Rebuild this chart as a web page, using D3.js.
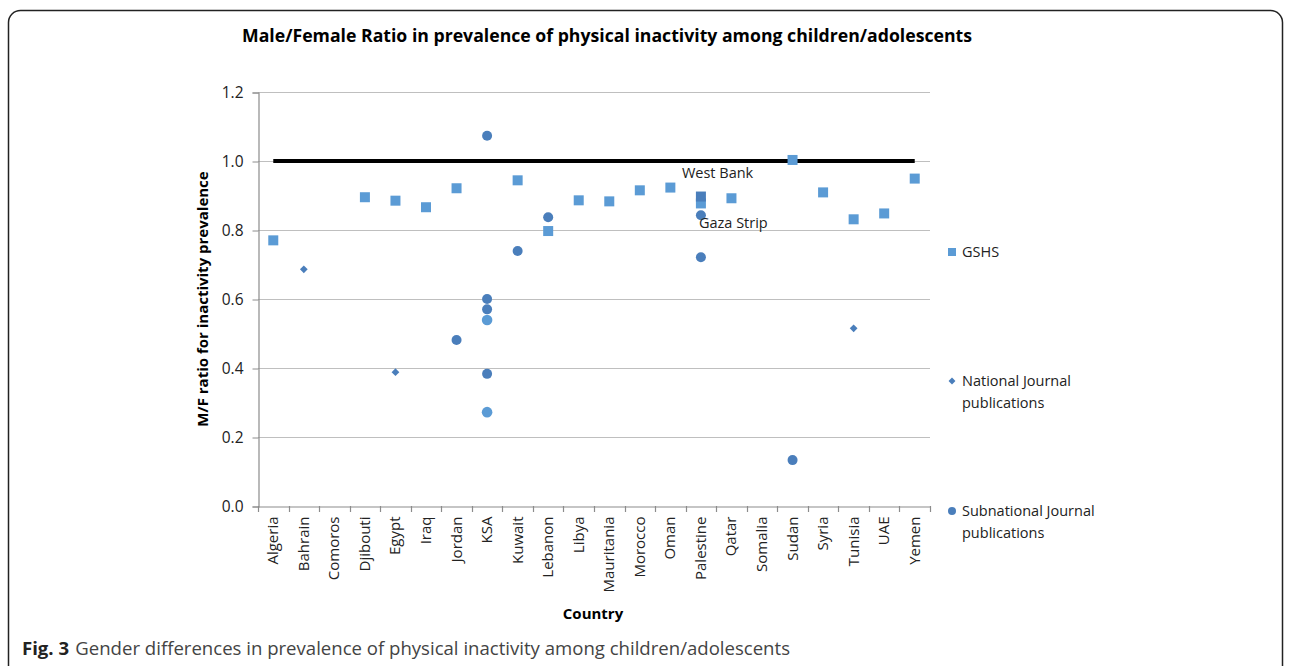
<!DOCTYPE html>
<html><head><meta charset="utf-8">
<script src="https://cdn.jsdelivr.net/npm/d3@7"></script>
<style>
html,body{margin:0;padding:0;background:#fff;}
svg{display:block;font-family:"Open Sans",sans-serif;}
</style></head>
<body><svg id="c" width="1290" height="666"></svg>
<script>
const countries = ["Algeria","Bahrain","Comoros","Djibouti","Egypt","Iraq","Jordan","KSA","Kuwait","Lebanon","Libya","Mauritania","Morocco","Oman","Palestine","Qatar","Somalia","Sudan","Syria","Tunisia","UAE","Yemen"];
const yTicks = [0, 0.2, 0.4, 0.6, 0.8, 1.0, 1.2];
const gshs = [["Algeria",0.77],["Djibouti",0.895],["Egypt",0.885],["Iraq",0.866],["Jordan",0.921],["Kuwait",0.944],["Lebanon",0.797],["Libya",0.886],["Mauritania",0.883],["Morocco",0.915],["Oman",0.923],["Palestine",0.877],["Qatar",0.892],["Sudan",1.003],["Syria",0.909],["Tunisia",0.831],["UAE",0.848],["Yemen",0.949]];
const gshsWestBank = [["Palestine",0.897]];
const national = [["Bahrain",0.686],["Egypt",0.388],["Tunisia",0.515]];
const subnational = [["Jordan",0.481],["KSA",1.073],["KSA",0.6],["KSA",0.57],["KSA",0.383],["Kuwait",0.739],["Lebanon",0.837],["Palestine",0.843],["Palestine",0.721],["Sudan",0.133]];
const subnationalB = [["KSA",0.539],["KSA",0.272]];
const referenceLine = 1.0;
const annotations = [["West Bank","Palestine",0.965],["Gaza Strip","Palestine",0.82]];
const legendItems = ["GSHS","National Journal|publications","Subnational Journal|publications"];

(function(){
const svg = d3.select("#c");
const pL=258, pR=930, pT=92, pB=506;
const x = d3.scaleBand().domain(countries).range([pL,pR]).padding(0);
const y = d3.scaleLinear().domain([0,1.2]).range([pB,pT]);
const cx = c => x(c)+x.bandwidth()/2;

svg.append("rect").attr("x",8.5).attr("y",10.5).attr("width",1274).attr("height",700)
  .attr("rx",12).attr("fill","none").attr("stroke","#222").attr("stroke-width",1.5);

svg.append("text").attr("x",607).attr("y",42).attr("text-anchor","middle")
  .attr("font-weight","bold").attr("font-size",17.5).attr("textLength",730).attr("lengthAdjust","spacingAndGlyphs")
  .text("Male/Female Ratio in prevalence of physical inactivity among children/adolescents");

svg.append("g").selectAll("line").data(yTicks.filter(d=>d>0)).join("line")
  .attr("x1",pL).attr("x2",pR).attr("y1",d=>Math.round(y(d))+0.5).attr("y2",d=>Math.round(y(d))+0.5)
  .attr("stroke","#bfbfbf").attr("stroke-width",1.2);

const yAxis = d3.axisLeft(y).tickValues(yTicks).tickFormat(d3.format(".1f")).tickSize(6).tickPadding(9);
const gy = svg.append("g").attr("transform",`translate(${pL+0.5},0.5)`).call(yAxis);
gy.select(".domain").attr("stroke","#8c8c8c").attr("stroke-width",1.2);
gy.selectAll(".tick line").attr("stroke","#8c8c8c");
gy.selectAll("text").attr("font-size",15.5).attr("fill","#222").attr("font-family","Open Sans");

const xAxis = d3.axisBottom(x).tickSize(0).tickPadding(0);
const gx = svg.append("g").attr("transform",`translate(0,${pB+0.5})`).call(xAxis);
gx.select(".domain").attr("stroke","#8c8c8c").attr("stroke-width",1.2);
gx.selectAll(".tick text").attr("font-size",15).attr("fill","#222").attr("font-family","Open Sans")
  .attr("text-anchor","end").attr("transform","translate(5,10) rotate(-90)").attr("dy",0).attr("x",0).attr("y",0);
svg.append("g").selectAll("line").data(d3.range(countries.length+1)).join("line")
  .attr("x1",i=>Math.round(pL+i*x.step())+0.5).attr("x2",i=>Math.round(pL+i*x.step())+0.5)
  .attr("y1",pB).attr("y2",pB+6).attr("stroke","#8c8c8c").attr("stroke-width",1.2);

svg.append("text").attr("transform",`translate(208,${(pT+pB)/2}) rotate(-90)`).attr("text-anchor","middle")
  .attr("font-weight","bold").attr("font-size",15).attr("font-family","Open Sans").text("M/F ratio for inactivity prevalence");
svg.append("text").attr("x",593).attr("y",619).attr("text-anchor","middle")
  .attr("font-weight","bold").attr("font-size",15).attr("font-family","Open Sans").text("Country");

svg.append("line").attr("x1",cx(countries[0])).attr("x2",cx(countries[countries.length-1]))
  .attr("y1",y(referenceLine)).attr("y2",y(referenceLine)).attr("stroke","#000").attr("stroke-width",4);

const C_SQ="#5b9bd5", C_SQD="#4a7ebb", C_DI="#4a7ebb", C_CI="#4a7ebb", C_CIB="#5b9bd5";
const sq=10;
const g = svg.append("g");
g.selectAll("rect.g").data(gshs).join("rect").attr("class","g")
  .attr("x",d=>cx(d[0])-sq/2).attr("y",d=>y(d[1])-sq/2).attr("width",sq).attr("height",sq).attr("fill",C_SQ);
g.selectAll("rect.w").data(gshsWestBank).join("rect").attr("class","w")
  .attr("x",d=>cx(d[0])-sq/2).attr("y",d=>y(d[1])-sq/2).attr("width",sq).attr("height",sq).attr("fill",C_SQD);
g.selectAll("path.n").data(national).join("path").attr("class","n")
  .attr("d",d3.symbol(d3.symbolSquare,30)).attr("transform",d=>`translate(${cx(d[0])},${y(d[1])}) rotate(45)`).attr("fill",C_DI);
g.selectAll("circle.s").data(subnational).join("circle").attr("class","s")
  .attr("cx",d=>cx(d[0])).attr("cy",d=>y(d[1])).attr("r",5).attr("fill",C_CI);
g.selectAll("circle.b").data(subnationalB).join("circle").attr("class","b")
  .attr("cx",d=>cx(d[0])).attr("cy",d=>y(d[1])).attr("r",5.3).attr("fill",C_CIB);

svg.append("g").selectAll("text").data(annotations).join("text")
  .attr("x",(d,i)=>cx(d[1])+(i===0?-19:-2)).attr("y",d=>y(d[2])+5)
  .attr("font-size",14.5).attr("font-family","Open Sans").attr("fill","#222")
  .text(d=>d[0]);

const legY=[252,381,511];
const lg = svg.append("g");
legendItems.forEach((t,i)=>{
  const yy=legY[i];
  if(i===0) lg.append("rect").attr("x",948).attr("y",yy-4).attr("width",8).attr("height",8).attr("fill",C_SQ);
  else if(i===1) lg.append("path").attr("d",d3.symbol(d3.symbolSquare,24)).attr("transform",`translate(952,${yy}) rotate(45)`).attr("fill",C_DI);
  else lg.append("circle").attr("cx",952).attr("cy",yy).attr("r",4).attr("fill",C_CI);
  t.split("|").forEach((line,j)=>{
    lg.append("text").attr("x",962).attr("y",yy+5+j*22).attr("font-size",14.5).attr("font-family","Open Sans").attr("fill","#222").text(line);
  });
});

const cap = svg.append("text").attr("x",22).attr("y",655).attr("font-size",18).attr("fill","#222").attr("font-family","Open Sans");
cap.append("tspan").attr("font-weight","bold").text("Fig. 3");
cap.append("tspan").attr("dx",6).attr("fill","#444").text("Gender differences in prevalence of physical inactivity among children/adolescents");
cap.attr("textLength",768).attr("lengthAdjust","spacingAndGlyphs");
})();
</script></body></html>
